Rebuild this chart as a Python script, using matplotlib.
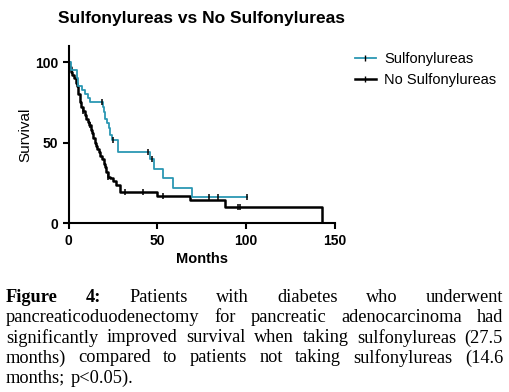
import numpy as np
import matplotlib.pyplot as plt
from matplotlib.lines import Line2D

# Kaplan-Meier steps (months, % survival after the step)
sulf_t = [0, 1.2, 4.6, 5.5, 7.4, 9, 11, 12, 19.5, 20.2, 20.8, 21.8, 22.6, 23.4, 24.2,
          28, 46, 48, 53.3, 58.6, 69.3, 100.5]
sulf_s = [100, 95, 90, 85, 82.5, 80, 77.5, 75, 72, 69, 65, 62, 59, 55, 52,
          44.2, 40, 33.6, 28, 22.2, 16.6, 16.6]
sulf_cens = [19, 25, 45, 47, 79, 84, 100.3]

nosulf_t = [0, 0.5, 1.2, 2, 3, 4, 4.8, 5.5, 6.2, 7, 8, 9, 9.8, 10.8, 11.8, 12.5, 13.3,
            14, 14.8, 15.5, 16.2, 17, 18, 18.8, 19.8, 20.6, 21.3, 22, 23.5, 25, 26.5,
            29, 49.6, 68.4, 88, 142.5]
nosulf_s = [100, 97, 94, 92, 90, 87, 85, 80, 75, 72, 70, 67, 65, 63, 61, 58, 56,
            53, 50, 48, 46, 44, 42, 40, 37, 35, 32, 29, 28, 26, 24,
            19.5, 17, 14.6, 10.4, 0]
nosulf_cens = [8, 12, 22, 32, 42, 53, 95.5, 96.5]

caption_lines = [
    ["Figure", "4:", "Patients", "with", "diabetes", "who", "underwent"],
    ["pancreaticoduodenectomy", "for", "pancreatic", "adenocarcinoma", "had"],
    ["significantly", "improved", "survival", "when", "taking", "sulfonylureas", "(27.5"],
    ["months)", "compared", "to", "patients", "not", "taking", "sulfonylureas", "(14.6"],
    ["months;", "p<0.05)."],
]

teal = '#2b97b3'

plt.rcParams['font.family'] = ['Liberation Sans', 'DejaVu Sans']

fig = plt.figure(figsize=(5.09, 3.92), dpi=100)
ax = fig.add_axes([0.1346, 0.43, 0.5236, 0.4527])


def surv_at(times, surv, x):
    i = np.searchsorted(times, x, side='right') - 1
    return surv[i]


ax.step(nosulf_t, nosulf_s, where='post', color='black', lw=1.8)
ax.step(sulf_t, sulf_s, where='post', color=teal, lw=1.3)
ax.plot(nosulf_cens, [surv_at(nosulf_t, nosulf_s, c) for c in nosulf_cens],
        ls='none', marker='|', ms=4, mew=1.1, color='black')
ax.plot(sulf_cens, [surv_at(sulf_t, sulf_s, c) for c in sulf_cens],
        ls='none', marker='|', ms=4, mew=1.1, color='black')

ax.set_xlim(0, 150)
ax.set_ylim(0, 110)
ax.set_xticks([0, 50, 100, 150])
ax.set_yticks([0, 50, 100])
ax.spines['top'].set_visible(False)
ax.spines['right'].set_visible(False)
for s in ['left', 'bottom']:
    ax.spines[s].set_linewidth(1.5)
ax.spines['bottom'].set_bounds(0, 150)
ax.tick_params(direction='out', width=1.5, length=4, labelsize=10)
for lab in ax.get_xticklabels() + ax.get_yticklabels():
    lab.set_fontweight('bold')
ax.set_xlabel('Months', fontsize=10.5, fontweight='bold', labelpad=3)
ax.set_ylabel('Survival', fontsize=11, labelpad=2)
ax.margins(0)

fig.text(0.396, 0.952, 'Sulfonylureas vs No Sulfonylureas', ha='center', va='center',
         fontsize=12.5, fontweight='bold')

handles = [Line2D([], [], color=teal, lw=1.3, marker='|', ms=4, mew=1, mec='black'),
           Line2D([], [], color='black', lw=1.8, marker='|', ms=4, mew=1)]
fig.legend(handles, ['Sulfonylureas', 'No Sulfonylureas'], loc='upper left',
           bbox_to_anchor=(0.672, 0.9), frameon=False, fontsize=10.5,
           handlelength=1.4, handletextpad=0.6, labelspacing=0.45)

# justified caption
renderer = fig.canvas.get_renderer()
left, right = 6 / 509, 503 / 509
line_y = [297, 317, 338, 358, 378]
fs = 13.2
for li, words in enumerate(caption_lines):
    y = 1 - line_y[li] / 392
    texts = []
    for wi, w in enumerate(words):
        bold = li == 0 and wi < 2
        t = fig.text(0, y, w, fontsize=fs, family='Liberation Serif',
                     fontweight='bold' if bold else 'normal', va='center', ha='left')
        texts.append(t)
    widths = [t.get_window_extent(renderer).width / fig.bbox.width for t in texts]
    if li == len(caption_lines) - 1:
        gap = 0.01
    else:
        gap = (right - left - sum(widths)) / (len(words) - 1)
    x = left
    for t, w in zip(texts, widths):
        t.set_x(x)
        x += w + gap

fig.savefig('out.png', dpi=100)
